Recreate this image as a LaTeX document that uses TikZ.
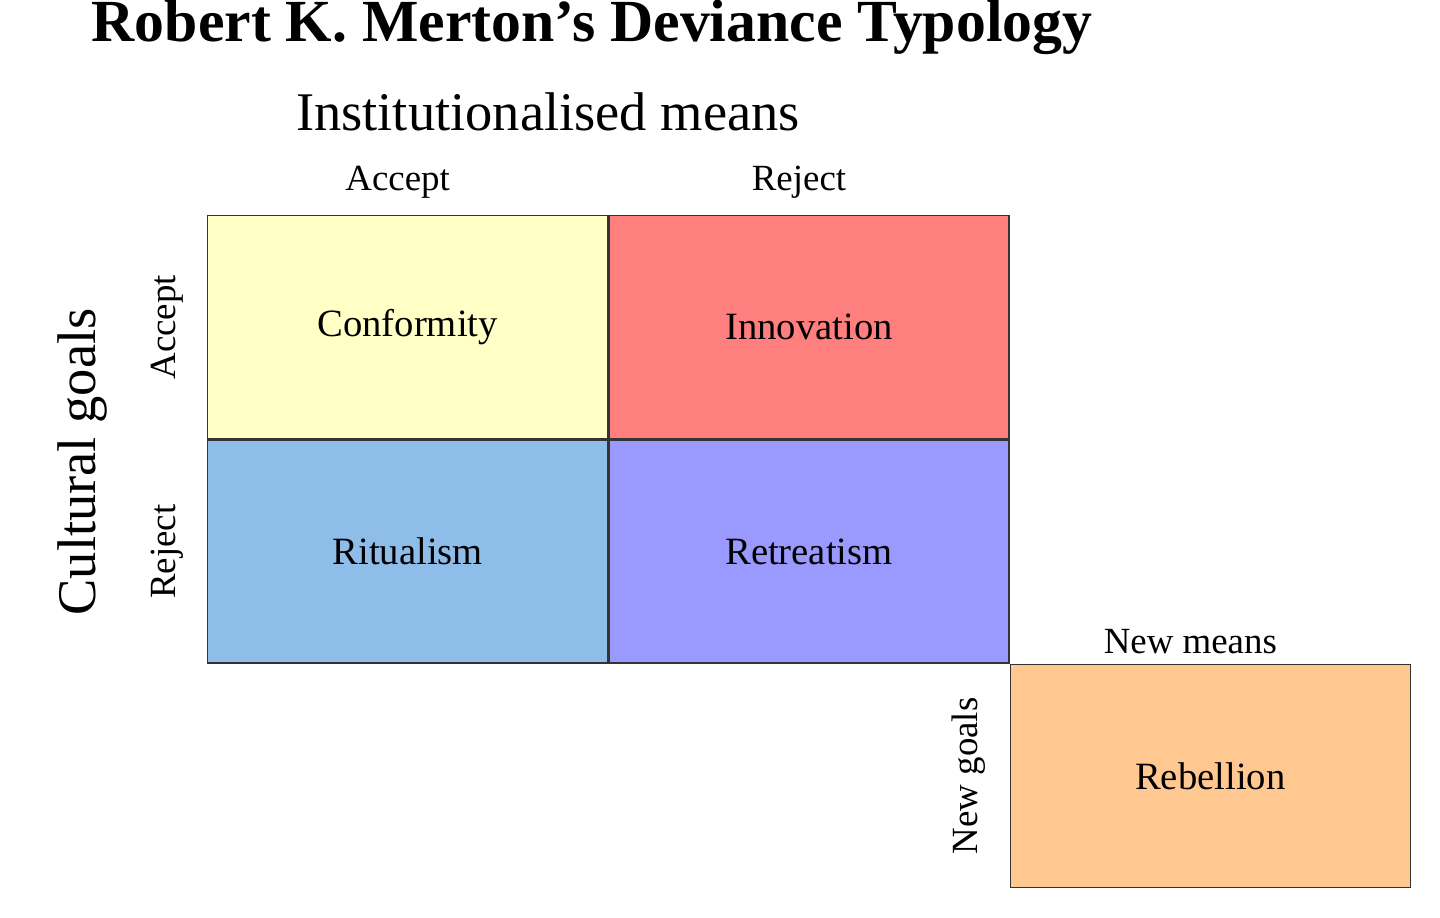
\documentclass[tikz,border=0pt]{standalone}
\usepackage{fontspec}
\setmainfont{Liberation Serif}
\usetikzlibrary{positioning}
\definecolor{conf}{HTML}{FFFFC6}
\definecolor{inno}{HTML}{FF7F7F}
\definecolor{ritu}{HTML}{8FBDE9}
\definecolor{retr}{HTML}{9A99FE}
\definecolor{rebe}{HTML}{FFC891}
\begin{document}
\begin{tikzpicture}[x=0.02cm,y=-0.02cm,
            cell/.style={draw=black!80,thick,minimum width=8.0cm,minimum height=4.46cm,
                inner sep=0pt,font=\fontsize{22}{24}\selectfont},
            head/.style={font=\fontsize{21}{23}\selectfont},
            big/.style={font=\fontsize{31}{34}\selectfont}]
            \useasboundingbox (0,0) rectangle (1440,918);
            % the grid
            \node[cell,fill=conf,anchor=north west] (conf) at (207,215) {Conformity};
            \node[cell,fill=inno,right=0pt of conf] (inno) {Innovation};
            \node[cell,fill=ritu,below=0pt of conf] (ritu) {Ritualism};
            \node[cell,fill=retr,right=0pt of ritu] (retr) {Retreatism};
            \node[cell,fill=rebe,anchor=north west] (rebe) at (retr.south east) {Rebellion};
            % headings
            \node[font=\bfseries\fontsize{34}{37}\selectfont] (title) at (592,27) {Robert K. Merton's Deviance Typology};
            \node[big] (means) at (548,112) {Institutionalised means};
            \node[head,above=6pt of conf,xshift=-0.2cm] (macc) {Accept};
            \node[head,above=6pt of inno,xshift=-0.2cm] (mrej) {Reject};
            \node[head,above=2pt of rebe,xshift=-0.4cm] (mnew) {New means};
            \node[head,rotate=90,left=10pt of conf,anchor=south] (gacc) {Accept};
            \node[head,rotate=90,left=10pt of ritu,anchor=south] (grej) {Reject};
            \node[head,rotate=90,left=10pt of rebe,anchor=south] (gnew) {New goals};
            \node[big,rotate=90] (goals) at (82,462) {Cultural goals};
\end{tikzpicture}
\end{document}
